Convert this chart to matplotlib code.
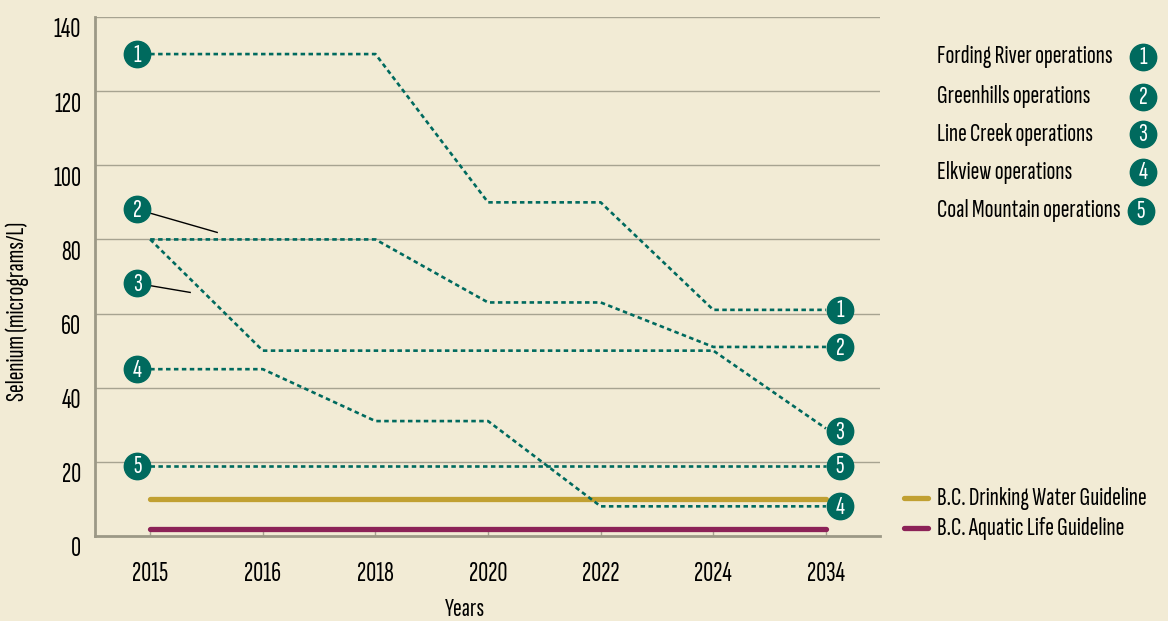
import matplotlib
matplotlib.use('Agg')
import matplotlib.pyplot as plt
import matplotlib.transforms as mtransforms
from matplotlib.lines import Line2D

# selenium projections per operation (micrograms/L)
years = ['2015', '2016', '2018', '2020', '2022', '2024', '2034']
fording = [130, 130, 130, 90, 90, 61, 61]
greenhills = [80, 80, 80, 63, 63, 51, 51]
line_creek = [80, 50, 50, 50, 50, 50, 29]
elkview = [45, 45, 31, 31, 8, 8, 8]
coal_mountain = [19, 19, 19, 19, 19, 19, 19]
operations = ['Fording River operations', 'Greenhills operations',
              'Line Creek operations', 'Elkview operations',
              'Coal Mountain operations']
drinking = [10] * len(years)
aquatic = [2] * len(years)
yticks = [0, 20, 40, 60, 80, 100, 120, 140]

BG = '#f2ebd5'
TEAL = '#006a5e'
GOLD = '#c1a032'
MAROON = '#8c2257'
GRID = '#a7a391'
FS = 19

plt.rcParams['font.family'] = ['Sofia Sans Extra Condensed', 'DejaVu Sans']
plt.rcParams['font.weight'] = 'semibold'

W, H = 1168, 621
fig = plt.figure(figsize=(W / 100, H / 100), dpi=100, facecolor=BG)
ax = fig.add_axes([95 / W, (H - 536) / H, (880 - 95) / W, (536 - 17) / H])
ax.set_facecolor(BG)

x = list(range(len(years)))
ax.set_xlim(-0.49, 6.48)
ax.set_ylim(0, 140)

for v in yticks[1:]:
    ax.axhline(v, color=GRID, lw=1.0, zorder=1)

ax.plot(x, drinking, color=GOLD, lw=3.8, solid_capstyle='round', zorder=2)
ax.plot(x, aquatic, color=MAROON, lw=3.8, solid_capstyle='round', zorder=2)

series = [fording, greenhills, line_creek, elkview, coal_mountain]
for s in series:
    ax.plot(x, s, color=TEAL, lw=1.9, ls=(0, (1.7, 1.3)), zorder=3)


def shifted(dx, dy):
    return ax.transData + mtransforms.Affine2D().translate(dx, dy)


def badge(xd, yd, num, dx=0, dy=0):
    # numbered dark circle, offset in pixels from a data point
    tr = shifted(dx, dy)
    ax.plot([xd], [yd], marker='o', ms=19, color=TEAL, transform=tr,
            clip_on=False, zorder=5)
    ax.text(xd, yd - 0.3, str(num), transform=tr, color='white', fontsize=19,
            ha='center', va='center', fontweight='semibold', clip_on=False,
            zorder=6)


# start badges (2 and 3 moved off the line, with leader lines)
left_off = {1: (-13, 0), 2: (-13, 30), 3: (-13, -44), 4: (-13, 0), 5: (-13, 0)}
leader_end = {2: (67, 7), 3: (40, -53)}
for i, s in enumerate(series, start=1):
    dx, dy = left_off[i]
    if i in leader_end:
        ex, ey = leader_end[i]
        p0 = shifted(dx, dy).transform((x[0], s[0]))
        p1 = shifted(ex, ey).transform((x[0], s[0]))
        ax.add_line(Line2D([p0[0], p1[0]], [p0[1], p1[1]], transform=None,
                           color='black', lw=1.0, zorder=4))
    badge(x[0], s[0], i, dx, dy)

# end badges
right_off = {1: (14, 0), 2: (14, 0), 3: (14, -3), 4: (14, 0), 5: (14, 0)}
for i, s in enumerate(series, start=1):
    dx, dy = right_off[i]
    badge(x[-1], s[-1], i, dx, dy)

# axes styling
for side in ['top', 'right']:
    ax.spines[side].set_visible(False)
for side in ['left', 'bottom']:
    ax.spines[side].set_color('#9c9886')
    ax.spines[side].set_linewidth(2.0)
ax.spines['bottom'].set_zorder(4)

ax.set_xticks(x)
ax.set_xticklabels(years)
ax.set_yticks(yticks)
ax.tick_params(axis='x', direction='in', length=6, width=1, color=GRID,
               pad=19, labelsize=FS + 1)
ax.tick_params(axis='y', length=0, pad=10, labelsize=FS + 1)
for lab in ax.get_yticklabels():
    lab.set_transform(lab.get_transform() + mtransforms.Affine2D().translate(0, -11))

fig.text(465 / W, 1 - 609 / H, 'Years', ha='center', va='center', fontsize=FS)
fig.text(17 / W, 1 - 311 / H, 'Selenium (micrograms/L)', ha='center',
         va='center', rotation=90, fontsize=FS)

# legend at right
leg_y = [57, 97, 134, 172, 211]
for i, (name, yy) in enumerate(zip(operations, leg_y), start=1):
    fig.text(937 / W, 1 - yy / H, name, ha='left', va='center', fontsize=FS)
    fx, fy = 1143 / W, 1 - yy / H
    if i == 5:
        fx = 1141 / W
    fig.add_artist(Line2D([fx], [fy], marker='o', ms=19, color=TEAL,
                          transform=fig.transFigure))
    fig.text(fx, fy - 0.0005, str(i), color='white', fontsize=19, ha='center',
             va='center', fontweight='semibold')

for yy, col, name in [(498, GOLD, 'B.C. Drinking Water Guideline'),
                      (528, MAROON, 'B.C. Aquatic Life Guideline')]:
    fig.add_artist(Line2D([904 / W, 928 / W], [1 - yy / H, 1 - yy / H],
                          color=col, lw=3.8, solid_capstyle='round',
                          transform=fig.transFigure))
    fig.text(937 / W, 1 - yy / H, name, ha='left', va='center', fontsize=FS)

fig.savefig('out.png', dpi=100, facecolor=BG)
